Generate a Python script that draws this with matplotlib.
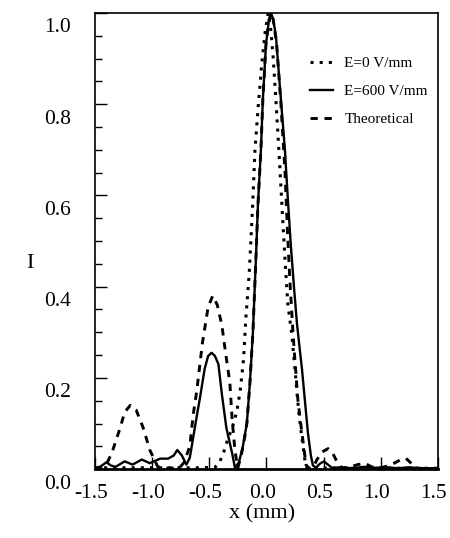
import matplotlib
matplotlib.use("Agg")
import matplotlib.pyplot as plt
import matplotlib.transforms as mtransforms
from matplotlib.ticker import MultipleLocator

plt.rcParams["font.family"] = ["Liberation Serif", "DejaVu Serif"]
plt.rcParams["axes.unicode_minus"] = False

# === Dati ===
x_ticks = [-1.5, -1.0, -0.5, 0.0, 0.5, 1.0, 1.5]
x_tick_labels = ["-1.5", "-1.0", "-0.5", "0.0", "0.5", "1.0", "1.5"]

x_e0 = [-1.5, -1.2, -0.9, -0.6, -0.45, -0.41, -0.37, -0.34, -0.30, -0.26, -0.23,
        -0.20, -0.18, -0.15, -0.12, -0.10, -0.07, -0.04, -0.01, 0.015, 0.04, 0.06,
        0.083, 0.109, 0.14, 0.165, 0.188, 0.22, 0.25, 0.27, 0.29, 0.315, 0.337,
        0.355, 0.6, 0.9, 1.2, 1.5]
i_e0 = [0.003, 0.003, 0.003, 0.003, 0.004, 0.015, 0.04, 0.064, 0.09, 0.125, 0.17,
        0.24, 0.33, 0.43, 0.58, 0.70, 0.80, 0.89, 0.96, 1.0, 0.96, 0.90,
        0.81, 0.70, 0.56, 0.45, 0.36, 0.30, 0.22, 0.16, 0.11, 0.06, 0.02,
        0.003, 0.002, 0.002, 0.002, 0.002]

x_e600 = [-1.50, -1.45, -1.40, -1.36, -1.32, -1.24, -1.17, -1.09, -1.02, -0.93,
          -0.86, -0.81, -0.78, -0.74, -0.70, -0.67, -0.64, -0.61, -0.58, -0.54,
          -0.51, -0.48, -0.45, -0.42, -0.39, -0.35, -0.30, -0.275, -0.24, -0.206,
          -0.171, -0.144, -0.118, -0.092, -0.074, -0.048, -0.031, -0.004, 0.02,
          0.04, 0.06, 0.083, 0.127, 0.162, 0.188, 0.214, 0.241, 0.267, 0.293,
          0.311, 0.337, 0.363, 0.389, 0.407, 0.433, 0.468, 0.503, 0.538, 0.573,
          0.65, 0.75, 0.85, 0.95, 1.05, 1.15, 1.25, 1.35, 1.5]
i_e600 = [0.002, 0.006, 0.015, 0.008, 0.005, 0.017, 0.010, 0.021, 0.013, 0.023,
          0.023, 0.030, 0.042, 0.030, 0.010, 0.025, 0.07, 0.115, 0.158, 0.22,
          0.248, 0.255, 0.248, 0.23, 0.165, 0.09, 0.035, 0.003, 0.015, 0.05,
          0.10, 0.19, 0.30, 0.46, 0.58, 0.70, 0.81, 0.93, 0.98,
          1.0, 0.985, 0.95, 0.81, 0.70, 0.59, 0.49, 0.40, 0.32, 0.26,
          0.22, 0.15, 0.08, 0.03, 0.008, 0.003, 0.012, 0.017, 0.010, 0.003,
          0.004, 0.002, 0.005, 0.003, 0.004, 0.002, 0.004, 0.002, 0.002]

x_teo = [-1.5, -1.45, -1.40, -1.35, -1.28, -1.24, -1.19, -1.14, -1.08, -1.02,
         -0.95, -0.85, -0.76, -0.72, -0.67, -0.64, -0.61, -0.56, -0.51, -0.47,
         -0.43, -0.39, -0.36, -0.32, -0.30, -0.275, -0.25, -0.22, -0.19, -0.171,
         -0.144, -0.118, -0.092, -0.074, -0.048, -0.031, -0.004, 0.02, 0.04, 0.06,
         0.09, 0.127, 0.162, 0.185, 0.206, 0.23, 0.249, 0.276, 0.30, 0.319,
         0.346, 0.37, 0.41, 0.44, 0.49, 0.54, 0.58, 0.62, 0.66, 0.72,
         0.80, 0.86, 0.92, 1.0, 1.08, 1.17, 1.22, 1.27, 1.32, 1.5]
i_teo = [0.002, 0.003, 0.01, 0.037, 0.09, 0.125, 0.14, 0.13, 0.092, 0.042,
         0.005, 0.002, 0.003, 0.015, 0.05, 0.12, 0.17, 0.276, 0.355, 0.38,
         0.36, 0.316, 0.26, 0.19, 0.11, 0.04, 0.003, 0.03, 0.07, 0.10,
         0.19, 0.30, 0.46, 0.58, 0.70, 0.81, 0.93, 0.98, 1.0, 0.985,
         0.93, 0.80, 0.656, 0.517, 0.41, 0.31, 0.24, 0.15, 0.10, 0.064,
         0.01, 0.002, 0.004, 0.02, 0.038, 0.045, 0.035, 0.015, 0.003, 0.004,
         0.01, 0.013, 0.005, 0.003, 0.008, 0.02, 0.024, 0.012, 0.002, 0.001]

# === Plot ===
fig = plt.figure(figsize=(4.5, 5.38), dpi=100)
ax = fig.add_axes([0.211, 0.128, 0.762, 0.848])

ax.plot(x_e0, i_e0, color="black", lw=2.2, linestyle=(0, (1, 2.0)), label="E=0 V/mm")
ax.plot(x_e600, i_e600, color="black", lw=1.7, linestyle="-", label="E=600 V/mm")
ax.plot(x_teo, i_teo, color="black", lw=2.1, linestyle=(0, (2.5, 2.3)), label="Theoretical")

ax.set_xlim(-1.5, 1.5)
ax.set_ylim(0, 1.0)
ax.set_xticks(x_ticks)
ax.set_xticklabels(x_tick_labels)
ax.yaxis.set_major_locator(MultipleLocator(0.2))
ax.yaxis.set_minor_locator(MultipleLocator(0.05))
ax.tick_params(axis="both", which="major", direction="in", labelsize=15.5, width=1.0)
ax.tick_params(axis="y", which="major", length=8.5, pad=17)
ax.tick_params(axis="x", which="major", length=8.5, pad=11)
ax.tick_params(axis="y", which="minor", direction="in", length=5, width=1.0)

for s in ax.spines.values():
    s.set_linewidth(1.2)
ax.spines["bottom"].set_linewidth(2.0)

# etichette leggermente spostate come nell'originale
off_y = mtransforms.ScaledTranslation(0, -9 / 72, fig.dpi_scale_trans)
for lab in ax.get_yticklabels():
    lab.set_transform(lab.get_transform() + off_y)
off_x = mtransforms.ScaledTranslation(-3 / 72, 0, fig.dpi_scale_trans)
for lab in ax.get_xticklabels():
    lab.set_transform(lab.get_transform() + off_x)

ax.set_xlabel("x (mm)", fontsize=16)
ax.xaxis.set_label_coords(0.487, -0.078)
ax.set_ylabel("I", fontsize=16, rotation=0)
ax.yaxis.set_label_coords(-0.19, 0.43)

ax.legend(loc="upper left", bbox_to_anchor=(0.627, 0.905), frameon=False,
          fontsize=11, handlelength=1.5, handletextpad=0.75, labelspacing=0.95,
          borderpad=0, borderaxespad=0)

fig.savefig("out.png", dpi=100)
